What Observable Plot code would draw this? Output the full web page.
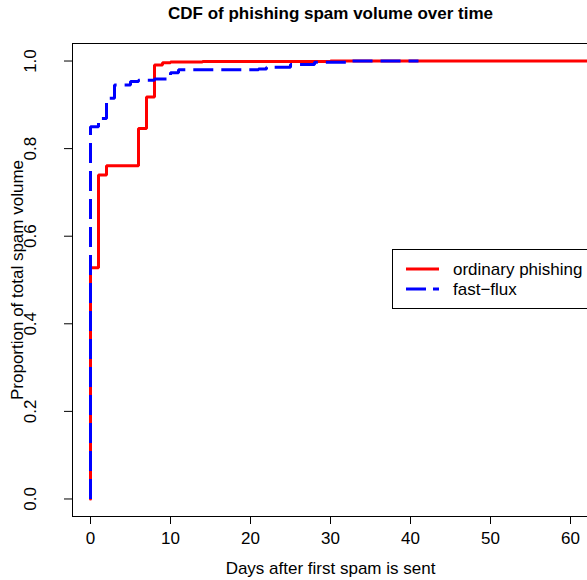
<!DOCTYPE html>
<html><head><meta charset="utf-8">
<script src="https://cdn.jsdelivr.net/npm/d3@7"></script>
<script src="https://cdn.jsdelivr.net/npm/@observablehq/plot@0.6"></script>
<style>
html,body{margin:0;padding:0;background:#fff;overflow:hidden;width:587px;height:580px}
#wrap{position:relative;width:587px;height:580px;overflow:hidden}
#wrap > svg:first-child{max-width:none !important;width:600px;height:580px}
#legend{position:absolute;left:392px;top:249px}
</style></head><body><div id="wrap"></div>
<script>
// ordinary phishing CDF (step points, days → proportion)
const ordDays = [0, 0, 1, 2, 6, 7, 8, 9, 10, 14, 30, 70];
const ordCdf  = [0, 0.528, 0.740, 0.761, 0.846, 0.918, 0.991, 0.996, 0.998, 0.999, 1, 1];
// fast-flux CDF
const ffDays = [0, 0, 1, 2, 3, 5, 6, 8, 10, 11, 21, 22, 25, 28, 32, 41];
const ffCdf  = [0, 0.850, 0.869, 0.915, 0.945, 0.953, 0.956, 0.959, 0.973, 0.980, 0.982, 0.986, 0.992, 0.997, 1, 1];
const xTicks = [0, 10, 20, 30, 40, 50, 60];
const yTicks = [0, 0.2, 0.4, 0.6, 0.8, 1.0];
const seriesNames = ["ordinary phishing", "fast\u2212flux"];
const seriesColors = ["#ff0000", "#0000ff"];

const ord = ordDays.map((d, i) => ({day: d, p: ordCdf[i]}));
const ff = ffDays.map((d, i) => ({day: d, p: ffCdf[i]}));
const font = "'Liberation Sans', Arial, Helvetica, sans-serif";

const chart = Plot.plot({
  width: 600, height: 580,
  marginLeft: 72, marginRight: 12, marginTop: 43, marginBottom: 64,
  style: {fontFamily: font, fontSize: "17px", background: "#fff", color: "#000", overflow: "visible", maxWidth: "none"},
  x: {domain: [-2.25, 62.25]},
  y: {domain: [-0.04, 1.04]},
  marks: [
    Plot.line(ord, {x: "day", y: "p", curve: "step-after", stroke: seriesColors[0], strokeWidth: 3, strokeLinejoin: "miter"}),
    Plot.line(ff, {x: "day", y: "p", curve: "step-after", stroke: seriesColors[1], strokeWidth: 3, strokeDasharray: "20,8", strokeLinecap: "butt", strokeLinejoin: "miter"}),
    Plot.frame({stroke: "#000", strokeWidth: 1}),
    Plot.axisX({ticks: xTicks, tickSize: 8, tickPadding: 7, fontSize: 17, label: null, tickFormat: d => String(d)}),
    Plot.axisY({ticks: yTicks, tickSize: 8, tickFormat: () => "", label: null}),
    Plot.text(yTicks, {frameAnchor: "left", y: d => d, text: d => d.toFixed(1), rotate: -90, dx: -42, textAnchor: "middle", lineAnchor: "middle", fontSize: 17}),
    Plot.text(["Proportion of total spam volume"], {frameAnchor: "left", rotate: -90, dx: -55, textAnchor: "middle", lineAnchor: "middle", fontSize: 17}),
    Plot.text(["Days after first spam is sent"], {frameAnchor: "bottom", dy: 57, lineAnchor: "bottom", fontSize: 17}),
    Plot.text(["CDF of phishing spam volume over time"], {frameAnchor: "top", dy: -24.5, lineAnchor: "bottom", fontSize: 17, fontWeight: "bold"})
  ]
});
chart.style.maxWidth = "none";
const wrap = document.getElementById("wrap");
wrap.appendChild(chart);

// legend
const ns = "http://www.w3.org/2000/svg";
const lg = document.createElementNS(ns, "svg");
lg.setAttribute("id", "legend");
lg.setAttribute("width", 210);
lg.setAttribute("height", 61);
const rect = document.createElementNS(ns, "rect");
rect.setAttribute("x", 0.5); rect.setAttribute("y", 0.5);
rect.setAttribute("width", 220); rect.setAttribute("height", 59);
rect.setAttribute("fill", "#fff"); rect.setAttribute("stroke", "#000");
lg.appendChild(rect);
seriesNames.forEach((name, i) => {
  const yy = 20 + i * 20;
  const ln = document.createElementNS(ns, "line");
  ln.setAttribute("x1", 14); ln.setAttribute("x2", 47);
  ln.setAttribute("y1", yy); ln.setAttribute("y2", yy);
  ln.setAttribute("stroke", seriesColors[i]); ln.setAttribute("stroke-width", 3);
  if (i === 1) ln.setAttribute("stroke-dasharray", "20,7");
  lg.appendChild(ln);
  const tx = document.createElementNS(ns, "text");
  tx.setAttribute("x", 61); tx.setAttribute("y", yy + 6);
  tx.setAttribute("font-family", font); tx.setAttribute("font-size", 17);
  tx.textContent = name;
  lg.appendChild(tx);
});
wrap.appendChild(lg);
</script>
</body></html>
